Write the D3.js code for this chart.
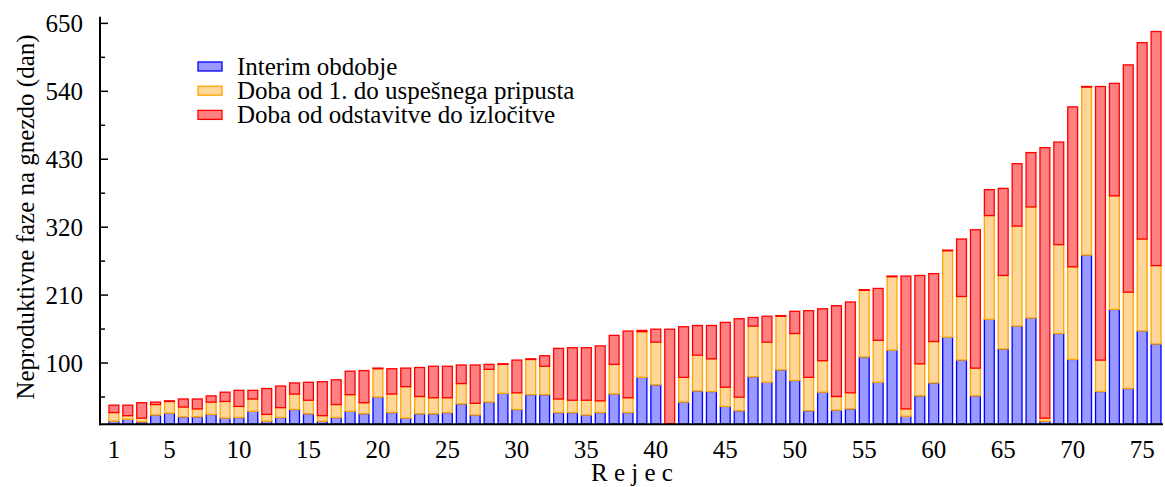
<!DOCTYPE html>
<html>
<head>
<meta charset="utf-8">
<script src="https://cdn.jsdelivr.net/npm/d3@7"></script>
<style>
  html, body { margin: 0; padding: 0; background: #fff; }
  svg { display: block; }
  text { font-family: "Liberation Serif", "Times New Roman", serif; fill: #000; }
</style>
</head>
<body>
<svg id="chart" width="1165" height="487"></svg>
<script>
// ---- data ----
const categories = d3.range(1, 77);
const interim = [5,8,4,15,18,12,12,16,10,11,21,5,11,24,17,5,11,21,17,44,
  19,10,17,17,19,33,15,36,50,24,48,48,19,19,15,19,49,19,76,64,
  0,36,54,53,29,22,77,68,88,71,22,52,23,25,109,68,120,13,46,67,
  141,104,46,170,122,159,172,5,147,105,274,53,186,58,151,130];
const pripust = [14,6,6,17,19,16,13,20,27,18,20,11,16,25,22,9,21,27,18,46,
  30,51,28,26,24,33,19,53,47,27,57,46,22,20,24,19,48,24,74,69,
  1,40,58,53,31,22,82,65,87,76,54,51,22,26,108,68,119,12,52,67,
  140,103,45,168,119,162,180,5,144,150,272,51,184,156,149,127];
const izlocitev = [12,17,25,4,1,13,16,10,15,26,14,42,35,18,29,55,40,38,52,1,
  41,30,47,51,51,30,62,8,1,53,1,17,82,85,85,89,47,108,2,21,
  153,82,48,54,105,127,14,42,1,36,108,84,147,147,1,84,1,215,143,110,
  1,93,224,42,141,101,88,438,166,259,1,443,182,368,318,379];
const seriesNames = ["Interim obdobje", "Doba od 1. do uspešnega pripusta", "Doba od odstavitve do izločitve"];
const yTickLabels = [100, 210, 320, 430, 540, 650];
const yMinorTicks = [45, 155, 265, 375, 485, 595];
const xTickLabels = [1, 5, 10, 15, 20, 25, 30, 35, 40, 45, 50, 55, 60, 65, 70, 75];
const fills = ["#9999ff", "#ffd699", "#ff8080"];
const strokes = ["#0000ff", "#ffa500", "#ff0000"];

// ---- layout ----
const svg = d3.select("#chart");
const x = d3.scaleLinear().domain([0, 76.5]).range([100, 1163]);
const y = d3.scaleLinear().domain([0, 660]).range([424.3, 16.7]);
const step = x(1) - x(0);
const bw = step * 0.71;

const table = categories.map((c, i) => ({ cat: c, s0: interim[i], s1: pripust[i], s2: izlocitev[i] }));
const stack = d3.stack().keys(["s0", "s1", "s2"])(table);

const g = svg.append("g");
stack.forEach((layer, li) => {
  g.append("g").selectAll("rect").data(layer).join("rect")
    .attr("x", d => x(d.data.cat) - bw / 2)
    .attr("width", bw)
    .attr("y", d => y(d[1]))
    .attr("height", d => Math.max(0, y(d[0]) - y(d[1])))
    .attr("fill", fills[li])
    .attr("stroke", strokes[li])
    .attr("stroke-width", 1.3);
});

// ---- axes ----
const yAxis = d3.axisRight(y).tickValues(yTickLabels).tickSize(8).tickFormat("");
const ya = svg.append("g").attr("transform", "translate(100,0)").call(yAxis);
ya.select(".domain").remove();
ya.selectAll("line").attr("stroke", "#000").attr("stroke-width", 1.5);
const yMinor = d3.axisRight(y).tickValues(yMinorTicks).tickSize(5).tickFormat("");
const ym = svg.append("g").attr("transform", "translate(100,0)").call(yMinor);
ym.select(".domain").remove();
ym.selectAll("line").attr("stroke", "#000").attr("stroke-width", 1.5);

svg.append("g").selectAll("text").data(yTickLabels).join("text")
  .attr("x", 83).attr("y", d => y(d) + 9)
  .attr("text-anchor", "end").attr("font-size", 25)
  .text(d => d);

svg.append("line").attr("x1", 100).attr("x2", 100).attr("y1", y(660)).attr("y2", y(0) + 1)
  .attr("stroke", "#000").attr("stroke-width", 2);
svg.append("line").attr("x1", 99).attr("x2", 1163).attr("y1", y(0)).attr("y2", y(0))
  .attr("stroke", "#000").attr("stroke-width", 2);

svg.append("g").selectAll("text").data(xTickLabels).join("text")
  .attr("x", d => x(d)).attr("y", 458)
  .attr("text-anchor", "middle").attr("font-size", 25)
  .text(d => d);

svg.append("text").attr("x", 632).attr("y", 481).attr("text-anchor", "middle")
  .attr("font-size", 25).text("R e j e c");

svg.append("text").attr("transform", "translate(34,217) rotate(-90)")
  .attr("text-anchor", "middle").attr("font-size", 25)
  .text("Neproduktivne faze na gnezdo (dan)");

// ---- legend ----
const leg = svg.append("g").selectAll("g").data(seriesNames).join("g")
  .attr("transform", (d, i) => `translate(198,${62 + i * 24.2})`);
leg.append("rect").attr("width", 24).attr("height", 9)
  .attr("fill", (d, i) => fills[i]).attr("stroke", (d, i) => strokes[i]).attr("stroke-width", 1.3);
leg.append("text").attr("x", 39).attr("y", 13).attr("font-size", 25).text(d => d);
</script>
</body>
</html>
